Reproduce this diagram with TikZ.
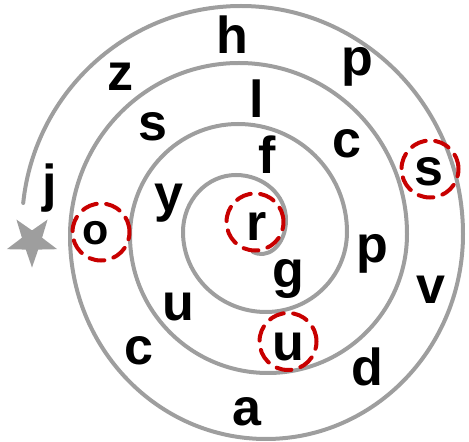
\documentclass[tikz,border=0pt]{standalone}
\usepackage{fontspec}
\setmainfont{Liberation Sans}
\usetikzlibrary{shapes.geometric}
\definecolor{spiralgray}{RGB}{158,158,158}
\definecolor{markred}{RGB}{200,0,0}
\tikzset{
  spiral/.style={draw=spiralgray, line width=4pt, line cap=round},
  letter/.style={anchor=base, inner sep=0pt, font=\fontsize{52}{60}\selectfont\bfseries},
  smallletter/.style={letter, font=\fontsize{43}{50}\selectfont\bfseries},
  ring/.style={draw=markred, line width=4pt, dash pattern=on 15pt off 9.5pt, line cap=round, circle, inner sep=0pt, minimum size=57pt},
  startstar/.style={star, star points=5, star point ratio=2.5, minimum size=53pt, inner sep=0pt, shape border rotate=180, fill=spiralgray, draw=none}
}
\begin{document}
\begin{tikzpicture}[x=1pt, y=-1pt]
\useasboundingbox (0,0) rectangle (469,442);
\coordinate (s0) at (23.2,203);
\draw[spiral] (s0)
  arc[start angle=174, end angle=90, x radius=219pt, y radius=220pt]
  arc[start angle=90, end angle=0, x radius=222pt, y radius=228pt]
  arc[start angle=0, end angle=-90, x radius=197pt, y radius=205pt]
  arc[start angle=-90, end angle=-180, x radius=196pt, y radius=203pt]
  arc[start angle=180, end angle=90, x radius=169pt, y radius=173pt]
  arc[start angle=90, end angle=0, x radius=168pt, y radius=171pt]
  arc[start angle=0, end angle=-90, x radius=139pt, y radius=139pt]
  arc[start angle=-90, end angle=-180, x radius=138pt, y radius=137pt]
  arc[start angle=180, end angle=90, x radius=108pt, y radius=112pt]
  arc[start angle=90, end angle=0, x radius=109pt, y radius=108pt]
  arc[start angle=0, end angle=-90, x radius=81pt, y radius=80pt]
  arc[start angle=-90, end angle=-180, x radius=83pt, y radius=80pt]
  arc[start angle=180, end angle=90, x radius=53pt, y radius=57pt]
  arc[start angle=90, end angle=0, x radius=50pt, y radius=45pt]
  arc[start angle=0, end angle=-110, x radius=24.6pt, y radius=34pt];
\node[startstar] (star) at (32,241) {};
% circled letters
\node[ring] (cs) at (430,169) {};
\node[ring] (co) at (101,232) {};
\node[ring] (cr) at (255,222) {};
\node[ring] (cu) at (288,341.5) {};
% letters
\node[letter] (h) at (232,53) {h};
\node[letter] (z) at (120,90) {z};
\node[letter] (p1) at (357,75) {p};
\node[letter] (s1) at (153,140) {s};
\node[letter] (l) at (257,117) {l};
\node[letter] (c1) at (347,157) {c};
\node[letter] (f) at (267,173) {f};
\node[letter] (s2) at (429,185) {s};
\node[letter] (j) at (50,201) {j};
\node[smallletter] (o) at (96,244) {o};
\node[letter] (y) at (169,211) {y};
\node[letter] (r) at (257,240) {r};
\node[letter] (p2) at (372,262) {p};
\node[letter] (g) at (288,287) {g};
\node[letter] (v) at (431,303) {v};
\node[letter] (u1) at (178,320) {u};
\node[letter] (u2) at (288,360) {u};
\node[letter] (c2) at (139,364) {c};
\node[letter] (d) at (367,385) {d};
\node[letter] (a) at (247,425) {a};
\end{tikzpicture}
\end{document}
